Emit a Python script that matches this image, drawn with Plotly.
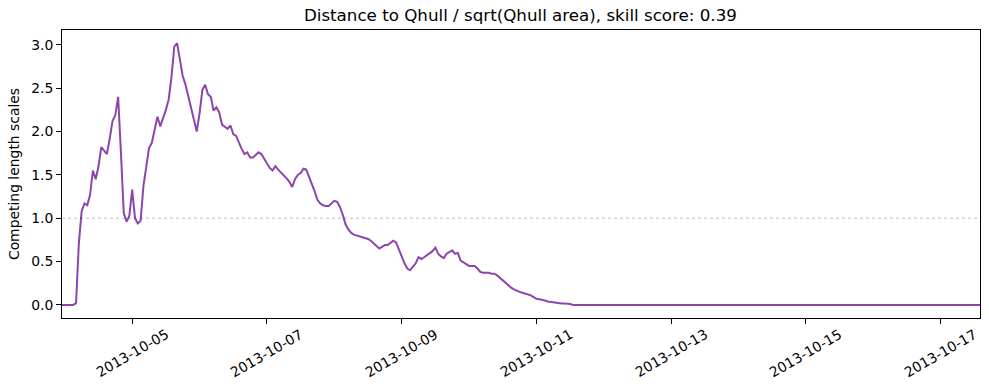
import pandas as pd
import plotly.graph_objects as go

# Hourly series from 2013-10-03 23:00 to 2013-10-17 14:00
start_time = "2013-10-03 23:00"
end_time = "2013-10-17 14:00"

values_active = [
    0.0, 0.0, 0.0, 0.0, 0.0, 0.02, 0.71, 1.08, 1.17, 1.15,
    1.27, 1.55, 1.45, 1.60, 1.82, 1.78, 1.74, 1.92, 2.12, 2.19,
    2.40, 1.75, 1.06, 0.96, 1.03, 1.33, 1.00, 0.94, 0.97, 1.37,
    1.62, 1.81, 1.87, 2.03, 2.17, 2.06, 2.15, 2.25, 2.37, 2.63,
    2.98, 3.02, 2.83, 2.64, 2.54, 2.40, 2.27, 2.13, 2.00, 2.21,
    2.48, 2.54, 2.43, 2.40, 2.24, 2.28, 2.22, 2.08, 2.05, 2.03,
    2.07, 1.97, 1.95, 1.87, 1.80, 1.74, 1.76, 1.70, 1.70, 1.73,
    1.76, 1.74, 1.69, 1.63, 1.58, 1.55, 1.60, 1.56, 1.53, 1.49,
    1.46, 1.42, 1.36, 1.45, 1.50, 1.52, 1.57, 1.56, 1.48, 1.40,
    1.31, 1.21, 1.17, 1.15, 1.14, 1.14, 1.17, 1.20, 1.19, 1.13,
    1.04, 0.93, 0.87, 0.83, 0.81, 0.80, 0.79, 0.78, 0.77, 0.76,
    0.74, 0.71, 0.67, 0.65, 0.67, 0.69, 0.69, 0.71, 0.74, 0.72,
    0.65, 0.56, 0.48, 0.42, 0.40, 0.44, 0.48, 0.55, 0.53, 0.55,
    0.57, 0.59, 0.62, 0.66, 0.59, 0.56, 0.54, 0.59, 0.61, 0.63,
    0.59, 0.60, 0.51, 0.49, 0.47, 0.45, 0.45, 0.45, 0.42, 0.38,
    0.37, 0.37, 0.37, 0.36, 0.36, 0.34, 0.31, 0.29, 0.26, 0.23,
    0.20, 0.18, 0.16, 0.15, 0.14, 0.13, 0.12, 0.11, 0.09, 0.07,
    0.065, 0.06, 0.05, 0.04, 0.035, 0.03, 0.02, 0.015, 0.015, 0.015,
    0.015, 0.01,
]
values_tail = [0.0] * 146  # flat at zero until the end
values = values_active + values_tail

reference_level = 1.0
tick_dates = ["2013-10-05", "2013-10-07", "2013-10-09", "2013-10-11",
              "2013-10-13", "2013-10-15", "2013-10-17"]
title_text = "Distance to Qhull / sqrt(Qhull area), skill score: 0.39"
y_label = "Competing length scales"
y_ticks = [0.0, 0.5, 1.0, 1.5, 2.0, 2.5, 3.0]

times = pd.date_range(start_time, end_time, freq="h")

font_family = "DejaVu Sans"
tick_size = 13.9
title_size = 16.7

fig = go.Figure()
fig.add_trace(go.Scatter(
    x=times, y=values, mode="lines",
    line=dict(color="#8e44ad", width=2),
    showlegend=False,
))
fig.add_hline(y=reference_level, line=dict(color="rgba(0,0,0,0.25)", width=1, dash="dot"))

# x tick labels centred on their ticks and rotated 30 degrees
for d in tick_dates:
    fig.add_annotation(
        x=pd.Timestamp(d), xref="x", y=-0.1215, yref="paper",
        text=d, textangle=-30, showarrow=False,
        xanchor="center", yanchor="middle",
        font=dict(family=font_family, size=tick_size, color="black"),
    )

fig.update_layout(
    width=989, height=390,
    margin=dict(l=62, r=9, t=30, b=72),
    paper_bgcolor="white", plot_bgcolor="white",
    font=dict(family=font_family, size=tick_size, color="black"),
    title=dict(text=title_text, x=0.5262, xanchor="center", y=0.962, yanchor="middle",
               font=dict(size=title_size, family=font_family, color="black")),
)
fig.update_xaxes(
    range=[times[0], times[-1]],
    tickvals=pd.to_datetime(tick_dates),
    showticklabels=False,
    ticks="outside", ticklen=5, tickwidth=1, tickcolor="black",
    showline=True, linecolor="black", linewidth=1, mirror=True,
    showgrid=False, zeroline=False,
)
fig.update_yaxes(
    range=[-0.151, 3.171],
    tickvals=y_ticks,
    ticktext=[f"{v:.1f}" for v in y_ticks],
    ticks="outside", ticklen=5, tickwidth=1, tickcolor="black",
    showline=True, linecolor="black", linewidth=1, mirror=True,
    showgrid=False, zeroline=False,
    title=dict(text=y_label, font=dict(size=tick_size), standoff=8),
    tickfont=dict(size=tick_size),
)

fig.write_html("out.html", config={"displayModeBar": False},
               post_script="document.body.style.margin='0';")
